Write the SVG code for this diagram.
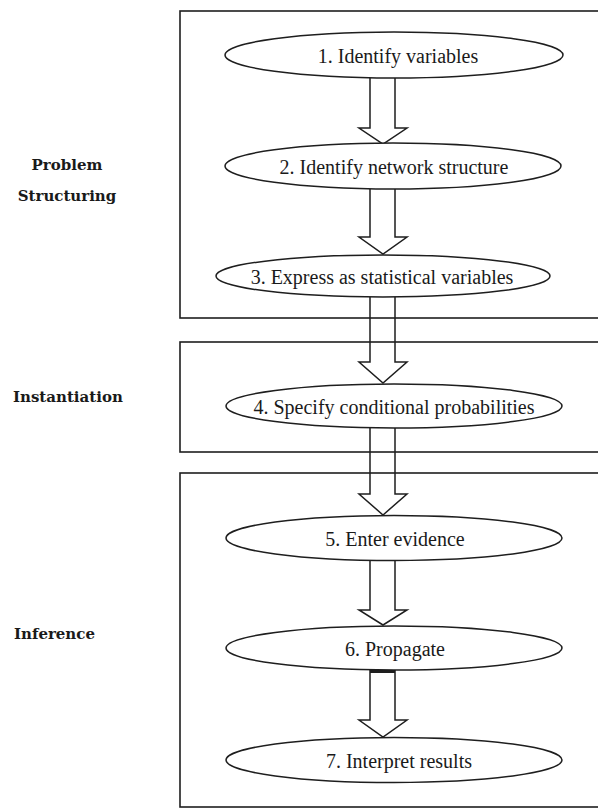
<svg xmlns="http://www.w3.org/2000/svg" width="598" height="808" viewBox="0 0 598 808">
  <style>
    .phase { fill: none; stroke: #1e1e1e; stroke-width: 1.6; }
    .step ellipse { fill: #fff; stroke: #1e1e1e; stroke-width: 1.5; }
    .step text { font-family: "Liberation Serif", "Times New Roman", serif; font-size: 20px; fill: #1a1a1a; text-anchor: middle; }
    .label { font-family: "DejaVu Serif", "Liberation Serif", serif; font-weight: bold; font-size: 15px; fill: #1a1a1a; }
    .arrow { fill: none; stroke: #1e1e1e; stroke-width: 1.5; stroke-linejoin: miter; }
  </style>
  <rect width="598" height="808" fill="#fff"/>

  <!-- phase frames -->
  <g id="phases">
    <g id="phase-structuring">
      <rect class="phase" x="180" y="11" width="430" height="307"/>
      <text class="label" x="67" y="170" text-anchor="middle">Problem</text>
      <text class="label" x="67" y="201" text-anchor="middle">Structuring</text>
    </g>
    <g id="phase-instantiation">
      <rect class="phase" x="180" y="342" width="430" height="110"/>
      <text class="label" x="13" y="402">Instantiation</text>
    </g>
    <g id="phase-inference">
      <rect class="phase" x="180" y="473" width="430" height="334"/>
      <text class="label" x="14" y="639">Inference</text>
    </g>
  </g>

  <!-- hollow block arrows between steps -->
  <g id="connectors">
    <polyline class="arrow" points="370,78 370,128 359,128 383,144 407,128 395,128 395,78"/>
    <polyline class="arrow" points="370,189 370,237 359,237 383,254 407,237 395,237 395,189"/>
    <polyline class="arrow" points="370,297 370,362 359,362 383,383 407,362 395,362 395,297"/>
    <polyline class="arrow" points="370,428 370,494 359,494 383,515 407,494 395,494 395,428"/>
    <polyline class="arrow" points="370,561 370,610 359,610 383,625 407,610 395,610 395,561"/>
    <polyline class="arrow" points="370,670 370,720 359,720 383,737 407,720 395,720 395,670"/>
    <line x1="370" y1="671.5" x2="395" y2="671.5" stroke="#1e1e1e" stroke-width="3"/>
  </g>

  <!-- process steps -->
  <g id="step-1" class="step">
    <ellipse cx="394" cy="55" rx="169" ry="23"/>
    <text x="398" y="63">1. Identify variables</text>
  </g>
  <g id="step-2" class="step">
    <ellipse cx="393" cy="166" rx="168" ry="23"/>
    <text x="394" y="174">2. Identify network structure</text>
  </g>
  <g id="step-3" class="step">
    <ellipse cx="383" cy="276" rx="167" ry="21"/>
    <text x="382" y="284">3. Express as statistical variables</text>
  </g>
  <g id="step-4" class="step">
    <ellipse cx="394" cy="406" rx="168" ry="22"/>
    <text x="394" y="414">4. Specify conditional probabilities</text>
  </g>
  <g id="step-5" class="step">
    <ellipse cx="394" cy="538" rx="168" ry="22.5"/>
    <text x="395" y="546">5. Enter evidence</text>
  </g>
  <g id="step-6" class="step">
    <ellipse cx="394" cy="648" rx="168" ry="22"/>
    <text x="395" y="656">6. Propagate</text>
  </g>
  <g id="step-7" class="step">
    <ellipse cx="394" cy="760" rx="168" ry="22.5"/>
    <text x="399" y="768">7. Interpret results</text>
  </g>
</svg>
